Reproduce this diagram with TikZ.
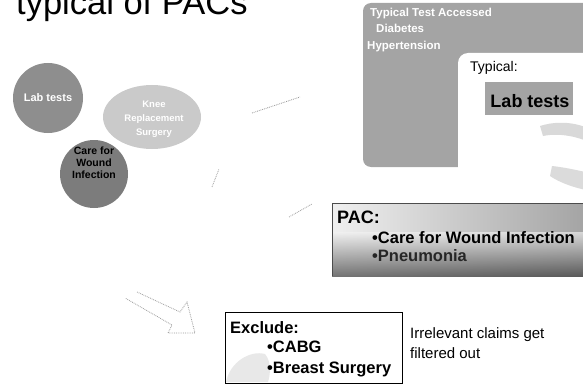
\documentclass[tikz,border=0pt]{standalone}
\usepackage{fontspec}
\setmainfont{Liberation Sans}
\usetikzlibrary{shapes.geometric}
\definecolor{panelgray}{HTML}{A4A4A4}
\definecolor{labgray}{HTML}{8E8E8E}
\definecolor{kneegray}{HTML}{CACACA}
\definecolor{woundgray}{HTML}{7C7C7C}
\definecolor{faint}{HTML}{9A9A9A}
\tikzset{
  bubble/.style={circle, inner sep=0pt, minimum size=70pt},
  bubbletext/.style={inner sep=0pt, align=center, font=\fontsize{10.5}{12}\selectfont\bfseries},
  listtext/.style={anchor=base west, inner sep=0pt, font=\fontsize{16.5}{18}\selectfont\bfseries},
  paneltext/.style={anchor=base west, inner sep=0pt, text=white,
    font=\fontsize{11.5}{12}\selectfont\bfseries},
  trail/.style={faint, densely dotted, line width=0.8pt},
}
\begin{document}
\begin{tikzpicture}[x=1pt, y=-1pt]
\useasboundingbox (0,0) rectangle (583,385);
\clip (0,0) rectangle (583,385);

% heading, cut by the top edge
\node[anchor=base west, inner sep=0pt, font=\fontsize{34.5}{35}\selectfont] (title) at (16,15) {typical of PACs};

% the three procedure bubbles
\node[bubble, fill=labgray] (lab) at (48,98) {};
\node[bubbletext, text=white, font=\fontsize{11}{12}\selectfont\bfseries] (labtxt) at (lab.center) {Lab tests};
\node[ellipse, inner sep=0pt, fill=kneegray, minimum width=98pt, minimum height=64pt] (knee) at (152,117) {};
\node[bubbletext, text=white, font=\fontsize{9.5}{14}\selectfont\bfseries] (kneetxt) at (154,119)
      {Knee\\Replacement\\Surgery};
\node[bubble, fill=woundgray, minimum size=68pt] (wound) at (94,174) {};
\node[bubbletext, text=black] (woundtxt) at (94,163) {Care for\\Wound\\Infection};

% right-hand panel with the typical tests
\fill[panelgray, rounded corners=8pt] (363,3) rectangle (610,167);
\node[paneltext] (acc) at (370,17) {Typical Test Accessed};
\node[paneltext] (diab) at (376,33) {Diabetes};
\node[paneltext] (hyp) at (367,50) {Hypertension};
\fill[white, rounded corners=10pt] (458,53) rectangle (610,196);
\node[anchor=base west, inner sep=0pt, font=\fontsize{14}{15}\selectfont] (typ) at (470,72) {Typical:};
\node[fill=panelgray, minimum width=88pt, minimum height=33pt, inner sep=0pt] (labbox) at (529,98.5) {};
\node[anchor=base, inner sep=0pt, font=\fontsize{18}{18}\selectfont\bfseries] (labboxtxt) at (530,107) {Lab tests};
\fill[gray!30] (540,126) .. controls (565,118) and (590,126) .. (600,136)
   -- (600,148) .. controls (585,138) and (562,132) .. (543,136) -- cycle;
\fill[gray!28] (552,166) .. controls (570,168) and (590,173) .. (600,176)
   -- (600,192) .. controls (585,191) and (563,185) .. (550,176) -- cycle;

% PAC box with darkening shade
\shade[left color=gray!12, right color=gray!75] (332,203) rectangle (600,276);
\shade[top color=gray!10, bottom color=black!80, opacity=0.65] (332,232) rectangle (600,276);
\draw[black!70, line width=0.6pt] (600,203) -- (332,203) -- (332,276);
\node[listtext, font=\fontsize{18}{18}\selectfont\bfseries] (pac) at (337,223) {PAC:};
\node[listtext] (pac1) at (372,243) {\textbullet Care for Wound Infection};
\node[listtext, text=black!85] (pac2) at (372,261) {\textbullet Pneumonia};

% exclusion box
\fill[gray!18] (226,382) .. controls (230,362) and (250,350) .. (265,354)
   .. controls (272,362) and (270,376) .. (268,382) -- cycle;
\draw[line width=0.8pt] (225,312) rectangle (402,383);
\node[listtext] (exc) at (230,333) {Exclude:};
\node[listtext] (cabg) at (267,352) {\textbullet CABG};
\node[listtext] (breast) at (267,373) {\textbullet Breast Surgery};

\node[anchor=base west, inner sep=0pt, font=\fontsize{15}{16}\selectfont] (note1) at (410,338) {Irrelevant claims get};
\node[anchor=base west, inner sep=0pt, font=\fontsize{15}{16}\selectfont] (note2) at (410,358) {filtered out};

% faint traces of the flow arrows
\coordinate (t1a) at (252,113); \coordinate (t1b) at (300,97);
\coordinate (t2a) at (212,187); \coordinate (t2b) at (219,169);
\coordinate (t3a) at (289,217); \coordinate (t3b) at (312,204);
\draw[trail] (t1a) -- (t1b);
\draw[trail] (t2a) -- (t2b);
\draw[trail] (t3a) -- (t3b);

% hollow block arrow pointing at the exclusion box
\coordinate (h1) at (125,298); \coordinate (h2) at (137,292);
\coordinate (h3) at (180,312); \coordinate (h4) at (187,302);
\coordinate (h5) at (195,333); \coordinate (h6) at (168,333);
\coordinate (h7) at (172,325);
\draw[trail] (h2) -- (h3) -- (h4) -- (h5) -- (h6) -- (h7) -- (h1);
\end{tikzpicture}
\end{document}
